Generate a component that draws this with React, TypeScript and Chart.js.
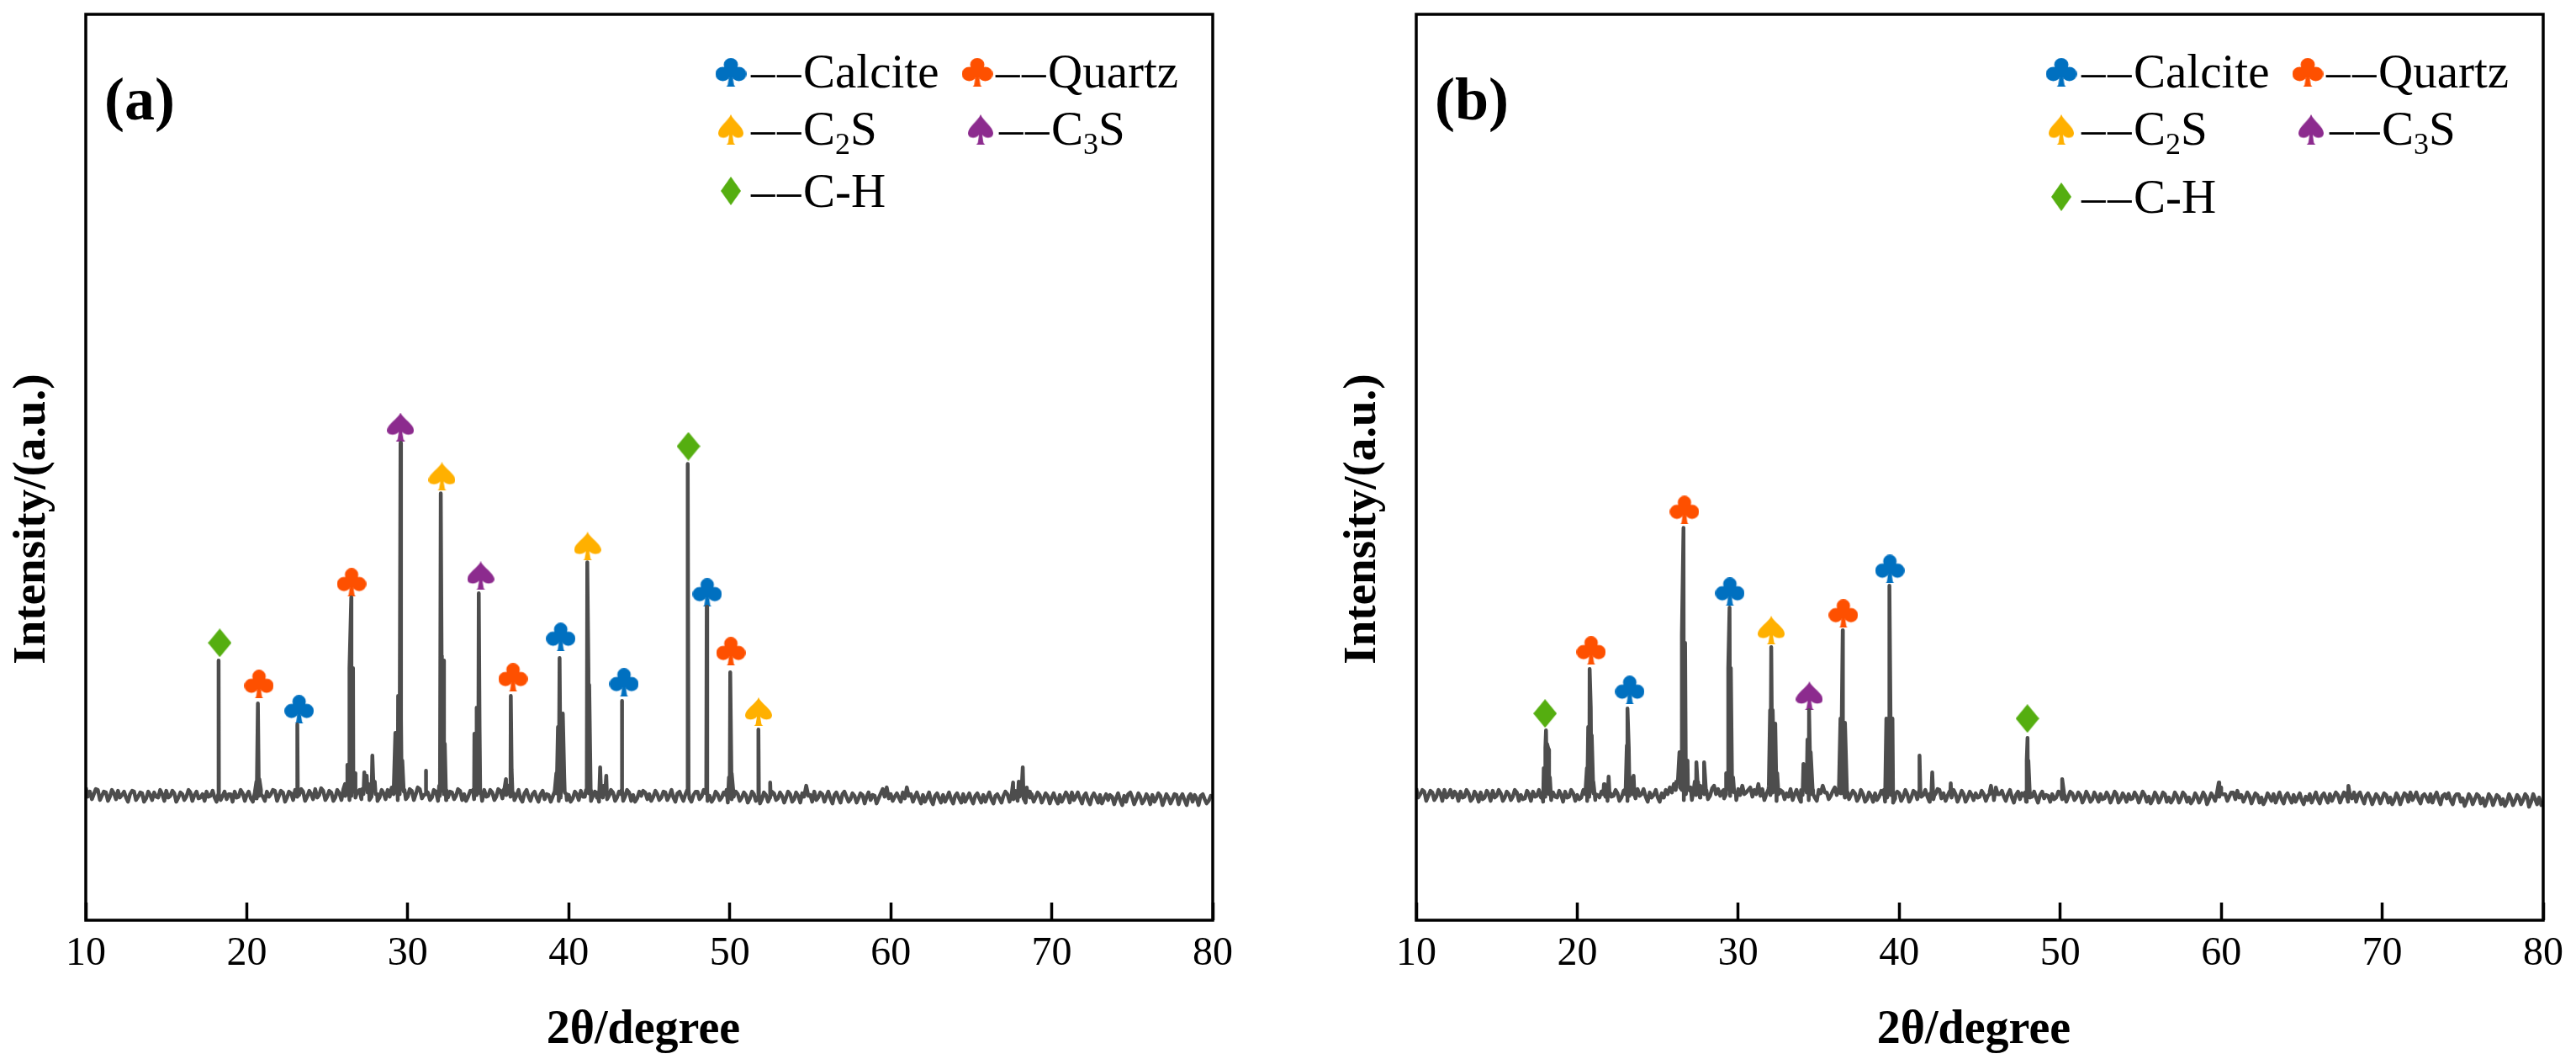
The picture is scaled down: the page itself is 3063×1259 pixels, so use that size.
import { useEffect, useRef } from "react";
import { Chart, registerables } from "chart.js";

Chart.register(...registerables);

const xTicks = [10, 20, 30, 40, 50, 60, 70, 80];

// scan positions of the background, 2theta in degrees
const scanAngles = [
  10, 10.25, 10.5, 10.75, 11, 11.25, 11.5, 11.75, 12, 12.25, 12.5, 12.75, 13, 13.25, 13.5, 13.75,
  14, 14.25, 14.5, 14.75, 15, 15.25, 15.5, 15.75, 16, 16.25, 16.5, 16.75, 17, 17.25, 17.5, 17.75,
  18, 18.25, 18.5, 18.75, 19, 19.25, 19.5, 19.75, 20, 20.25, 20.5, 20.75, 21, 21.25, 21.5, 21.75,
  22, 22.25, 22.5, 22.75, 23, 23.25, 23.5, 23.75, 24, 24.25, 24.5, 24.75, 25, 25.25, 25.5, 25.75,
  26, 26.25, 26.5, 26.75, 27, 27.25, 27.5, 27.75, 28, 28.25, 28.5, 28.75, 29, 29.25, 29.5, 29.75,
  30, 30.25, 30.5, 30.75, 31, 31.25, 31.5, 31.75, 32, 32.25, 32.5, 32.75, 33, 33.25, 33.5, 33.75,
  34, 34.25, 34.5, 34.75, 35, 35.25, 35.5, 35.75, 36, 36.25, 36.5, 36.75, 37, 37.25, 37.5, 37.75,
  38, 38.25, 38.5, 38.75, 39, 39.25, 39.5, 39.75, 40, 40.25, 40.5, 40.75, 41, 41.25, 41.5, 41.75,
  42, 42.25, 42.5, 42.75, 43, 43.25, 43.5, 43.75, 44, 44.25, 44.5, 44.75, 45, 45.25, 45.5, 45.75,
  46, 46.25, 46.5, 46.75, 47, 47.25, 47.5, 47.75, 48, 48.25, 48.5, 48.75, 49, 49.25, 49.5, 49.75,
  50, 50.25, 50.5, 50.75, 51, 51.25, 51.5, 51.75, 52, 52.25, 52.5, 52.75, 53, 53.25, 53.5, 53.75,
  54, 54.25, 54.5, 54.75, 55, 55.25, 55.5, 55.75, 56, 56.25, 56.5, 56.75, 57, 57.25, 57.5, 57.75,
  58, 58.25, 58.5, 58.75, 59, 59.25, 59.5, 59.75, 60, 60.25, 60.5, 60.75, 61, 61.25, 61.5, 61.75,
  62, 62.25, 62.5, 62.75, 63, 63.25, 63.5, 63.75, 64, 64.25, 64.5, 64.75, 65, 65.25, 65.5, 65.75,
  66, 66.25, 66.5, 66.75, 67, 67.25, 67.5, 67.75, 68, 68.25, 68.5, 68.75, 69, 69.25, 69.5, 69.75,
  70, 70.25, 70.5, 70.75, 71, 71.25, 71.5, 71.75, 72, 72.25, 72.5, 72.75, 73, 73.25, 73.5, 73.75,
  74, 74.25, 74.5, 74.75, 75, 75.25, 75.5, 75.75, 76, 76.25, 76.5, 76.75, 77, 77.25, 77.5, 77.75,
  78, 78.25, 78.5, 78.75, 79, 79.25, 79.5, 79.75, 80,
];

const midAngles = [
  10.12, 10.38, 10.62, 10.88, 11.12, 11.38, 11.62, 11.88, 12.12, 12.38, 12.62, 12.88, 13.12, 13.38, 13.62, 13.88,
  14.12, 14.38, 14.62, 14.88, 15.12, 15.38, 15.62, 15.88, 16.12, 16.38, 16.62, 16.88, 17.12, 17.38, 17.62, 17.88,
  18.12, 18.38, 18.62, 18.88, 19.12, 19.38, 19.62, 19.88, 20.12, 20.38, 20.62, 20.88, 21.12, 21.38, 21.62, 21.88,
  22.12, 22.38, 22.62, 22.88, 23.12, 23.38, 23.62, 23.88, 24.12, 24.38, 24.62, 24.88, 25.12, 25.38, 25.62, 25.88,
  26.12, 26.38, 26.62, 26.88, 27.12, 27.38, 27.62, 27.88, 28.12, 28.38, 28.62, 28.88, 29.12, 29.38, 29.62, 29.88,
  30.12, 30.38, 30.62, 30.88, 31.12, 31.38, 31.62, 31.88, 32.12, 32.38, 32.62, 32.88, 33.12, 33.38, 33.62, 33.88,
  34.12, 34.38, 34.62, 34.88, 35.12, 35.38, 35.62, 35.88, 36.12, 36.38, 36.62, 36.88, 37.12, 37.38, 37.62, 37.88,
  38.12, 38.38, 38.62, 38.88, 39.12, 39.38, 39.62, 39.88, 40.12, 40.38, 40.62, 40.88, 41.12, 41.38, 41.62, 41.88,
  42.12, 42.38, 42.62, 42.88, 43.12, 43.38, 43.62, 43.88, 44.12, 44.38, 44.62, 44.88, 45.12, 45.38, 45.62, 45.88,
  46.12, 46.38, 46.62, 46.88, 47.12, 47.38, 47.62, 47.88, 48.12, 48.38, 48.62, 48.88, 49.12, 49.38, 49.62, 49.88,
  50.12, 50.38, 50.62, 50.88, 51.12, 51.38, 51.62, 51.88, 52.12, 52.38, 52.62, 52.88, 53.12, 53.38, 53.62, 53.88,
  54.12, 54.38, 54.62, 54.88, 55.12, 55.38, 55.62, 55.88, 56.12, 56.38, 56.62, 56.88, 57.12, 57.38, 57.62, 57.88,
  58.12, 58.38, 58.62, 58.88, 59.12, 59.38, 59.62, 59.88, 60.12, 60.38, 60.62, 60.88, 61.12, 61.38, 61.62, 61.88,
  62.12, 62.38, 62.62, 62.88, 63.12, 63.38, 63.62, 63.88, 64.12, 64.38, 64.62, 64.88, 65.12, 65.38, 65.62, 65.88,
  66.12, 66.38, 66.62, 66.88, 67.12, 67.38, 67.62, 67.88, 68.12, 68.38, 68.62, 68.88, 69.12, 69.38, 69.62, 69.88,
  70.12, 70.38, 70.62, 70.88, 71.12, 71.38, 71.62, 71.88, 72.12, 72.38, 72.62, 72.88, 73.12, 73.38, 73.62, 73.88,
  74.12, 74.38, 74.62, 74.88, 75.12, 75.38, 75.62, 75.88, 76.12, 76.38, 76.62, 76.88, 77.12, 77.38, 77.62, 77.88,
  78.12, 78.38, 78.62, 78.88, 79.12, 79.38, 79.62, 79.88,
];

const backgroundA = [
  158, 153, 150, 155, 148, 152, 147, 151, 154, 149, 146, 150, 153, 147, 151, 145,
  149, 152, 146, 150, 154, 148, 151, 146, 150, 147, 152, 149, 145, 150, 153, 148,
  146, 151, 148, 144, 150, 153, 147, 151, 149, 145, 152, 148, 147, 153, 150, 154,
  148, 152, 146, 151, 155, 149, 153, 147, 150, 156, 149, 154, 147, 152, 146, 151,
  156, 152, 148, 146, 155, 150, 152, 147, 150, 146, 151, 155, 158, 152, 150, 153,
  147, 154, 150, 156, 149, 152, 146, 153, 148, 150, 146, 152, 148, 154, 150, 147,
  153, 149, 151, 155, 148, 152, 147, 154, 156, 160, 153, 148, 145, 151, 147, 150,
  146, 150, 144, 149, 147, 151, 146, 152, 149, 145, 150, 154, 147, 151, 148, 146,
  155, 150, 148, 152, 146, 150, 147, 152, 149, 145, 148, 152, 150, 147, 150, 146,
  152, 148, 146, 151, 147, 150, 145, 149, 153, 147, 151, 148, 145, 150, 146, 149,
  151, 147, 150, 146, 149, 145, 150, 147, 144, 149, 146, 151, 145, 148, 146, 150,
  144, 148, 151, 160, 149, 153, 146, 150, 147, 145, 149, 146, 150, 147, 144, 148,
  145, 149, 147, 143, 148, 145, 156, 158, 150, 147, 146, 152, 158, 150, 147, 145,
  149, 146, 143, 148, 145, 149, 146, 144, 148, 145, 150, 146, 144, 148, 145, 149,
  147, 144, 148, 145, 148, 150, 148, 152, 147, 145, 148, 150, 146, 149, 145, 148,
  146, 144, 149, 146, 148, 152, 147, 145, 148, 143, 147, 146, 149, 145, 143, 147,
  145, 143, 148, 150, 146, 144, 147, 143, 146, 149, 145, 148, 143, 146, 144, 149,
  146, 143, 147, 141, 145, 148, 144, 142, 146,
];

const midCountsA = [
  147, 144, 156, 143, 153, 142, 155, 144, 146, 153, 141, 154, 143, 152, 141, 153,
  143, 147, 155, 142, 146, 154, 141, 152, 143, 155, 142, 153, 146, 142, 147, 154,
  141, 143, 153, 150, 141, 146, 155, 142, 153, 141, 145, 155, 142, 147, 155, 142,
  154, 141, 153, 143, 147, 156, 142, 154, 144, 146, 157, 143, 154, 142, 155, 143,
  148, 143, 153, 152, 144, 157, 143, 155, 142, 155, 144, 147, 150, 143, 156, 144,
  156, 143, 158, 145, 155, 143, 155, 142, 154, 143, 153, 144, 156, 143, 142, 154,
  144, 156, 142, 147, 155, 143, 156, 145, 149, 147, 143, 155, 141, 155, 142, 153,
  141, 154, 150, 141, 153, 142, 155, 143, 141, 153, 143, 147, 155, 142, 153, 141,
  146, 144, 155, 142, 153, 142, 155, 142, 141, 153, 154, 144, 142, 154, 143, 153,
  143, 155, 141, 153, 142, 154, 141, 153, 144, 155, 142, 141, 153, 143, 152, 140,
  144, 153, 142, 152, 140, 153, 142, 139, 152, 141, 153, 143, 152, 140, 153, 141,
  152, 140, 147, 148, 141, 143, 152, 141, 153, 139, 152, 140, 153, 141, 151, 140,
  151, 139, 152, 149, 139, 151, 147, 145, 142, 151, 141, 145, 148, 141, 152, 139,
  141, 152, 138, 151, 140, 141, 152, 139, 151, 140, 141, 151, 139, 151, 140, 141,
  152, 139, 150, 140, 153, 141, 144, 142, 152, 140, 153, 141, 152, 140, 151, 139,
  151, 139, 141, 152, 140, 143, 152, 139, 151, 138, 151, 140, 139, 150, 149, 138,
  151, 137, 141, 152, 138, 151, 139, 150, 138, 141, 151, 137, 150, 139, 150, 138,
  150, 137, 150, 149, 137, 150, 139, 148,
];

const peakAnglesA = [
  18.23, 18.25, 18.27, 20.5, 20.6, 20.69, 20.78, 20.88, 23.13, 23.15, 23.17,
  26.1, 26.25, 26.38, 26.49, 26.6, 26.72, 26.85, 27.15, 27.3, 27.45, 27.58, 27.8, 27.95, 28.1,
  29.1, 29.23, 29.3, 29.4, 29.5, 29.55, 29.58, 29.66, 29.8, 31.11, 31.13, 31.15,
  31.95, 32.05, 32.1, 32.24, 32.3, 32.4, 34.05, 34.14, 34.2, 34.28, 34.34, 34.41, 34.46, 34.55,
  35.95, 36.1, 36.25, 36.4, 36.45, 36.6, 39.12, 39.23, 39.33, 39.43, 39.52, 39.63, 39.72, 39.85,
  41.07, 41.15, 41.22, 41.27, 41.36, 41.75, 41.95, 42.15, 42.33, 42.55, 43.28, 43.3, 43.32,
  47.36, 47.4, 47.44, 48.54, 48.57, 48.6, 49.8, 49.95, 50.03, 50.12, 50.28, 51.77, 51.79, 51.81,
  52.5, 52.52, 52.54, 67.45, 67.6, 67.75, 67.95, 68.2, 68.45, 68.65,
];

const peakCountsA = [
  150, 309, 150, 152, 165, 258, 168, 150, 152, 233, 152,
  162, 185, 300, 384, 300, 175, 152, 156, 176, 172, 162, 196, 165, 150,
  158, 223, 205, 267, 235, 568, 240, 190, 155, 150, 178, 150,
  160, 508, 315, 309, 210, 155, 155, 222, 215, 253, 240, 389, 230, 152,
  155, 168, 160, 267, 180, 150, 152, 175, 230, 312, 230, 246, 170, 150,
  155, 426, 300, 280, 155, 152, 182, 160, 172, 150, 155, 261, 155,
  155, 543, 155, 155, 373, 155, 155, 170, 295, 175, 150, 150, 227, 150,
  148, 164, 148, 148, 164, 154, 165, 182, 158, 146,
];

const backgroundB = [
  157, 150, 153, 148, 152, 147, 151, 155, 149, 146, 150, 153, 147, 151, 145, 149,
  152, 146, 150, 154, 148, 151, 146, 150, 147, 152, 149, 145, 150, 153, 148, 146,
  147, 150, 152, 146, 149, 153, 147, 151, 149, 146, 150, 147, 151, 149, 153, 147,
  152, 148, 151, 146, 150, 148, 153, 156, 150, 147, 152, 149, 146, 151, 155, 158,
  162, 165, 155, 150, 154, 157, 155, 156, 152, 148, 160, 156, 153, 150, 148, 152,
  156, 160, 152, 158, 155, 162, 156, 150, 149, 154, 150, 153, 151, 156, 150, 147,
  149, 152, 150, 146, 155, 160, 152, 148, 158, 152, 160, 153, 149, 151, 146, 150,
  144, 148, 151, 147, 150, 146, 149, 145, 151, 147, 150, 146, 152, 155, 149, 147,
  152, 150, 155, 151, 148, 146, 150, 147, 150, 146, 149, 151, 147, 150, 148, 152,
  158, 150, 147, 150, 146, 149, 144, 148, 151, 147, 146, 149, 145, 148, 150, 146,
  152, 149, 147, 151, 146, 149, 145, 148, 144, 147, 150, 145, 148, 146, 150, 144,
  147, 150, 145, 148, 146, 149, 147, 144, 148, 145, 150, 146, 144, 148, 145, 149,
  146, 143, 147, 145, 148, 144, 147, 153, 158, 150, 147, 152, 154, 149, 146, 148,
  145, 149, 146, 143, 147, 150, 146, 144, 148, 145, 149, 146, 143, 147, 150, 146,
  144, 148, 145, 150, 147, 149, 146, 151, 148, 152, 149, 145, 148, 146, 144, 147,
  145, 149, 146, 143, 147, 145, 149, 152, 147, 144, 148, 146, 150, 147, 144, 148,
  145, 143, 147, 150, 145, 142, 146, 144, 148, 145, 142, 146, 143, 147, 144, 141,
  145, 142, 146, 143, 147, 141, 144, 146, 142,
];

const midCountsB = [
  146, 155, 142, 154, 143, 155, 142, 146, 155, 153, 142, 146, 155, 142, 153, 141,
  144, 154, 142, 146, 155, 142, 153, 143, 155, 142, 144, 154, 142, 147, 155, 141,
  153, 143, 147, 154, 141, 146, 155, 142, 144, 155, 142, 154, 143, 146, 154, 142,
  147, 155, 142, 154, 142, 156, 145, 148, 156, 141, 146, 155, 141, 146, 150, 152,
  155, 158, 143, 156, 143, 149, 146, 150, 144, 157, 150, 148, 145, 156, 153, 143,
  149, 150, 155, 147, 150, 148, 143, 156, 152, 142, 155, 144, 147, 143, 155, 141,
  155, 143, 155, 142, 151, 152, 144, 154, 149, 151, 146, 144, 154, 142, 155, 141,
  152, 141, 143, 154, 141, 155, 140, 153, 142, 155, 141, 154, 144, 147, 155, 141,
  144, 156, 145, 142, 153, 155, 141, 154, 141, 153, 143, 146, 154, 142, 153, 143,
  150, 154, 142, 155, 140, 153, 151, 141, 146, 153, 140, 153, 149, 141, 144, 153,
  144, 141, 153, 143, 152, 140, 153, 141, 152, 141, 144, 152, 140, 153, 140, 151,
  141, 144, 152, 140, 153, 141, 139, 152, 140, 152, 141, 140, 152, 140, 152, 141,
  139, 151, 140, 152, 138, 151, 142, 147, 150, 142, 152, 144, 146, 141, 152, 139,
  151, 140, 138, 151, 142, 140, 152, 139, 151, 140, 141, 151, 138, 143, 140, 152,
  139, 151, 140, 142, 152, 140, 152, 141, 145, 141, 152, 139, 151, 138, 150, 139,
  151, 140, 138, 151, 138, 151, 141, 143, 152, 139, 150, 141, 140, 152, 138, 150,
  151, 138, 150, 141, 136, 150, 138, 150, 139, 136, 150, 137, 149, 138, 136, 150,
  137, 149, 138, 150, 135, 150, 138, 137,
];

const peakAnglesB = [
  17.8, 17.92, 18.02, 18.06, 18.12, 18.22, 18.3, 18.42,
  20.45, 20.6, 20.68, 20.77, 20.84, 20.9, 21.0, 21.12, 21.62, 21.66, 21.7, 21.85, 21.95, 22.1,
  22.95, 23.08, 23.12, 23.2, 23.3, 23.45, 23.5, 23.55,
  26.15, 26.35, 26.5, 26.6, 26.7, 26.85, 27.05, 27.3, 27.4, 27.5, 27.65, 27.88, 28.02,
  29.1, 29.25, 29.38, 29.46, 29.54, 29.68, 29.85,
  31.9, 31.98, 32.05, 32.14, 32.3, 32.42, 32.6, 33.9, 34.05, 34.2, 34.3, 34.4, 34.5, 34.65,
  36.2, 36.35, 36.49, 36.63, 36.8, 39.05, 39.2, 39.39, 39.58, 39.75,
  41.2, 41.26, 41.32, 41.9, 42.05, 42.2, 43.17, 43.2, 43.23, 45.6, 45.7, 45.85,
  47.82, 47.92, 47.97, 48.02, 48.12, 50.02, 50.12, 50.25, 59.7, 59.85, 60.0, 67.7, 67.9, 68.1,
];

const peakCountsB = [
  150, 181, 205, 226, 210, 203, 170, 150,
  152, 181, 230, 299, 253, 220, 165, 150, 150, 162, 150, 155, 171, 150,
  155, 208, 252, 205, 170, 150, 172, 150,
  165, 200, 340, 467, 330, 190, 158, 165, 188, 165, 160, 188, 155,
  155, 175, 300, 372, 300, 170, 152,
  160, 250, 325, 250, 234, 175, 152, 155, 186, 180, 215, 250, 200, 150,
  155, 240, 345, 235, 152, 155, 240, 398, 240, 150,
  150, 196, 150, 150, 176, 150, 150, 163, 150, 150, 160, 150,
  152, 190, 217, 190, 152, 150, 168, 150, 148, 164, 150, 148, 160, 148,
];

// marker positions: angle, then height above the axis
const calciteAnglesA = [23.25, 39.5, 43.43, 48.6];
const calciteHeightsA = [251, 337, 283, 390];
const quartzAnglesA = [20.76, 26.51, 36.54, 50.07];
const quartzHeightsA = [281, 402, 289, 320];
const c2sAnglesA = [32.12, 41.17, 51.79];
const c2sHeightsA = [528, 445, 248];
const c3sAnglesA = [29.55, 34.53];
const c3sHeightsA = [587, 410];
const chAnglesA = [18.32, 47.43];
const chHeightsA = [330, 564];

const calciteAnglesB = [23.26, 29.48, 39.42];
const calciteHeightsB = [274, 391, 418];
const quartzAnglesB = [20.86, 26.66, 36.53];
const quartzHeightsB = [321, 488, 365];
const c2sAnglesB = [32.05];
const c2sHeightsB = [345];
const c3sAnglesB = [34.42];
const c3sHeightsB = [267];
const chAnglesB = [18.0, 47.96];
const chHeightsB = [246, 240];

const COLORS = {
  calcite: "#0070c0",
  quartz: "#fe5000",
  c2s: "#ffb000",
  c3s: "#8c2b8e",
  ch: "#55ae10",
  trace: "#4d4d4d",
};

const SERIF = '"Liberation Serif", "Times New Roman", serif';

const toPoints = (xs: number[], ys: number[]) => xs.map((x, i) => ({ x, y: ys[i] }));

const buildTrace = (bgY: number[], midY: number[], peakX: number[], peakY: number[]) =>
  [...toPoints(scanAngles, bgY), ...toPoints(midAngles, midY), ...toPoints(peakX, peakY)].sort(
    (a, b) => a.x - b.x
  );

type Kind = "club" | "spade" | "diamond";

const makeMarker = (kind: Kind, color: string) => {
  const c = document.createElement("canvas");
  c.width = kind === "club" ? 35 : kind === "spade" ? 32 : 28;
  c.height = 34;
  const g = c.getContext("2d")!;
  g.fillStyle = color;
  g.beginPath();
  if (kind === "club") {
    g.arc(17.5, 8, 8, 0, Math.PI * 2);
    g.moveTo(17, 19);
    g.arc(8.5, 19, 8.5, 0, Math.PI * 2);
    g.moveTo(35, 19);
    g.arc(26.5, 19, 8.5, 0, Math.PI * 2);
    g.fill();
    g.beginPath();
    g.moveTo(15.5, 10);
    g.lineTo(19.5, 10);
    g.lineTo(19.5, 22);
    g.lineTo(21, 32);
    g.lineTo(22.5, 34);
    g.lineTo(12.5, 34);
    g.lineTo(14, 32);
    g.lineTo(15.5, 22);
    g.closePath();
  } else if (kind === "spade") {
    g.moveTo(16, 0);
    g.bezierCurveTo(19, 7, 32, 14, 32, 21);
    g.bezierCurveTo(32, 27, 23, 28, 18, 23);
    g.lineTo(19.5, 32);
    g.lineTo(21.5, 34);
    g.lineTo(10.5, 34);
    g.lineTo(12.5, 32);
    g.lineTo(14, 23);
    g.bezierCurveTo(9, 28, 0, 27, 0, 21);
    g.bezierCurveTo(0, 14, 13, 7, 16, 0);
  } else {
    g.moveTo(14, 0);
    g.lineTo(28, 17);
    g.lineTo(14, 34);
    g.lineTo(0, 17);
  }
  g.closePath();
  g.fill();
  return c;
};

// frame, legend, panel tag and axis titles are drawn on top of the chart
const annotations = (tag: string, lastRowShift: number, markers: Record<string, HTMLCanvasElement>) => ({
  id: "annotations",
  afterDraw(chart: Chart) {
    const { ctx, chartArea } = chart;
    ctx.save();

    ctx.strokeStyle = "#000";
    ctx.lineWidth = 3.5;
    ctx.strokeRect(chartArea.left, chartArea.top, chartArea.right - chartArea.left, chartArea.bottom - chartArea.top);

    ctx.fillStyle = "#000";
    ctx.textBaseline = "alphabetic";
    ctx.textAlign = "left";
    ctx.font = `bold 72px ${SERIF}`;
    ctx.fillText(tag, 124, 142);

    const stamp = (m: HTMLCanvasElement, x: number, y: number, w: number, h: number) =>
      ctx.drawImage(m, x - w / 2, y - h / 2, w, h);

    stamp(markers.calcite, 869, 86, 37, 34);
    stamp(markers.quartz, 1162, 86, 37, 34);
    stamp(markers.c2s, 869, 154, 30, 36);
    stamp(markers.c3s, 1166, 154, 30, 36);
    stamp(markers.ch, 869, 227 + lastRowShift, 24, 34);

    // two separate dashes lead every legend label
    const dashes = (x: number, y: number) => {
      ctx.font = `57px ${SERIF}`;
      ctx.fillText("–", x, y);
      ctx.fillText("–", x + 31, y);
      return x + 62;
    };

    ctx.font = `57px ${SERIF}`;
    ctx.fillText("Calcite", dashes(893, 104), 104);
    ctx.fillText("Quartz", dashes(1184, 104), 104);
    ctx.fillText("C-H", dashes(893, 246 + lastRowShift), 246 + lastRowShift);

    const formula = (x: number, digit: string) => {
      const start = dashes(x, 172);
      ctx.font = `57px ${SERIF}`;
      ctx.fillText("C", start, 172);
      const w = ctx.measureText("C").width;
      ctx.font = `36px ${SERIF}`;
      ctx.fillText(digit, start + w, 183);
      const d = ctx.measureText(digit).width;
      ctx.font = `57px ${SERIF}`;
      ctx.fillText("S", start + w + d, 172);
    };
    formula(893, "2");
    formula(1188, "3");

    ctx.textAlign = "center";
    ctx.textBaseline = "middle";
    ctx.font = `bold 56px ${SERIF}`;
    ctx.fillText("2θ/degree", 765, 1226);

    ctx.translate(39, 617);
    ctx.rotate(-Math.PI / 2);
    ctx.font = `bold 55px ${SERIF}`;
    ctx.fillText("Intensity/(a.u.)", 0, 0);

    ctx.restore();
  },
});

interface PanelProps {
  left: number;
  tag: string;
  lastRowShift: number;
  trace: { x: number; y: number }[];
  calcite: { x: number; y: number }[];
  quartz: { x: number; y: number }[];
  c2s: { x: number; y: number }[];
  c3s: { x: number; y: number }[];
  ch: { x: number; y: number }[];
}

const Panel = ({ left, tag, lastRowShift, trace, calcite, quartz, c2s, c3s, ch }: PanelProps) => {
  const ref = useRef<HTMLCanvasElement>(null);

  useEffect(() => {
    const markers = {
      calcite: makeMarker("club", COLORS.calcite),
      quartz: makeMarker("club", COLORS.quartz),
      c2s: makeMarker("spade", COLORS.c2s),
      c3s: makeMarker("spade", COLORS.c3s),
      ch: makeMarker("diamond", COLORS.ch),
    };
    const phase = (data: { x: number; y: number }[], style: HTMLCanvasElement) => ({
      data,
      showLine: false,
      pointStyle: style,
      pointRadius: 16,
    });

    const chart = new Chart(ref.current!, {
      type: "scatter",
      data: {
        datasets: [
          {
            data: trace,
            showLine: true,
            borderColor: COLORS.trace,
            borderWidth: 4.5,
            borderJoinStyle: "round",
            pointRadius: 0,
            tension: 0,
          },
          phase(calcite, markers.calcite),
          phase(quartz, markers.quartz),
          phase(c2s, markers.c2s),
          phase(c3s, markers.c3s),
          phase(ch, markers.ch),
        ],
      },
      options: {
        animation: false,
        responsive: false,
        devicePixelRatio: 1,
        layout: { padding: { top: 16, right: 39, left: 0, bottom: 0 } },
        plugins: { legend: { display: false }, tooltip: { enabled: false } },
        scales: {
          x: {
            type: "linear",
            min: 10,
            max: 80,
            afterBuildTicks: (axis: any) => {
              axis.ticks = xTicks.map((value) => ({ value }));
            },
            afterFit: (axis: any) => {
              axis.height = 165;
              axis.paddingLeft = 0;
              axis.paddingRight = 0;
            },
            border: { display: false },
            grid: { drawOnChartArea: false, tickLength: -21, tickWidth: 3.5, tickColor: "#000" },
            ticks: {
              autoSkip: false,
              maxRotation: 0,
              padding: 33,
              color: "#000",
              font: { family: SERIF, size: 48 },
            },
          },
          y: {
            type: "linear",
            min: 0,
            max: 1078,
            afterFit: (axis: any) => {
              axis.width = 102;
            },
            border: { display: false },
            grid: { display: false },
            ticks: { display: false },
          },
        },
      },
      plugins: [annotations(tag, lastRowShift, markers)],
    } as any);

    return () => {
      chart.destroy();
    };
  }, []);

  return (
    <canvas
      ref={ref}
      width={1481}
      height={1259}
      style={{ position: "absolute", left, top: 0, width: 1481, height: 1259, display: "block" }}
    />
  );
};

export default function App() {
  return (
    <>
      <Panel
        left={0}
        tag="(a)"
        lastRowShift={0}
        trace={buildTrace(backgroundA, midCountsA, peakAnglesA, peakCountsA)}
        calcite={toPoints(calciteAnglesA, calciteHeightsA)}
        quartz={toPoints(quartzAnglesA, quartzHeightsA)}
        c2s={toPoints(c2sAnglesA, c2sHeightsA)}
        c3s={toPoints(c3sAnglesA, c3sHeightsA)}
        ch={toPoints(chAnglesA, chHeightsA)}
      />
      <Panel
        left={1582}
        tag="(b)"
        lastRowShift={7}
        trace={buildTrace(backgroundB, midCountsB, peakAnglesB, peakCountsB)}
        calcite={toPoints(calciteAnglesB, calciteHeightsB)}
        quartz={toPoints(quartzAnglesB, quartzHeightsB)}
        c2s={toPoints(c2sAnglesB, c2sHeightsB)}
        c3s={toPoints(c3sAnglesB, c3sHeightsB)}
        ch={toPoints(chAnglesB, chHeightsB)}
      />
    </>
  );
}
